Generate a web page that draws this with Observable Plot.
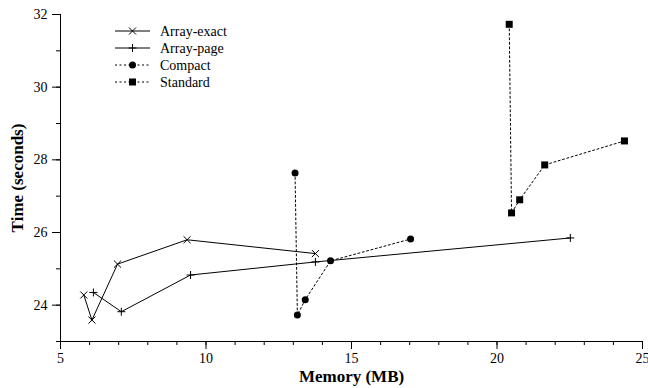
<!DOCTYPE html>
<html><head><meta charset="utf-8">
<script src="https://cdn.jsdelivr.net/npm/d3@7"></script>
<script src="https://cdn.jsdelivr.net/npm/@observablehq/plot@0.6"></script>
<style>body{margin:0;background:#fff;} svg{display:block;}</style>
</head><body><div id="chart"></div>
<script>
const seriesNames = ["Array-exact", "Array-page", "Compact", "Standard"];
const exactX = [5.80, 6.08, 6.96, 9.35, 13.76];
const exactY = [24.28, 23.59, 25.13, 25.80, 25.42];
const pageX = [6.13, 7.09, 9.47, 13.76, 22.52];
const pageY = [24.35, 23.82, 24.83, 25.19, 25.85];
const compactX = [13.06, 13.14, 13.41, 14.28, 17.03];
const compactY = [27.64, 23.73, 24.15, 25.22, 25.82];
const standardX = [20.42, 20.50, 20.78, 21.64, 24.38];
const standardY = [31.73, 26.54, 26.90, 27.86, 28.52];
const xTicks = [5, 10, 15, 20, 25];
const yTicks = [24, 26, 28, 30, 32];

const toRows = (xs, ys) => xs.map((x, i) => ({x, y: ys[i]}));
const exact = toRows(exactX, exactY);
const page = toRows(pageX, pageY);
const compact = toRows(compactX, compactY);
const standard = toRows(standardX, standardY);
const dash = "2,2.5";

const plot = Plot.plot({
  width: 648, height: 388,
  marginLeft: 60, marginRight: 6, marginTop: 14, marginBottom: 47,
  style: {fontFamily: "'Liberation Serif', serif", fontSize: "14px", color: "#000", background: "#fff"},
  x: {domain: [5, 25]},
  y: {domain: [23, 32]},
  marks: [
    Plot.ruleX([5], {stroke: "#000", strokeWidth: 1}),
    Plot.ruleY([23], {stroke: "#000", strokeWidth: 1}),
    Plot.axisX({ticks: d3.range(5, 26, 1), tickSize: 4, text: null, label: null}),
    Plot.axisX({ticks: xTicks, tickSize: 8, tickPadding: 4, fontSize: 14,
      label: "Memory (MB)", labelAnchor: "center", labelArrow: "none", labelOffset: 40}),
    Plot.axisY({ticks: d3.range(23, 33, 1), tickSize: 4, text: null, label: null}),
    Plot.axisY({ticks: yTicks, tickSize: 8, tickPadding: 5, fontSize: 14,
      label: "Time (seconds)", labelAnchor: "center", labelArrow: "none", labelOffset: 50}),
    Plot.line(exact, {x: "x", y: "y", stroke: "#000", strokeWidth: 1}),
    Plot.dot(exact, {x: "x", y: "y", symbol: "times", r: 3.3, stroke: "#000", strokeWidth: 1}),
    Plot.line(page, {x: "x", y: "y", stroke: "#000", strokeWidth: 1}),
    Plot.dot(page, {x: "x", y: "y", symbol: "plus", r: 2.7, stroke: "#000", strokeWidth: 1}),
    Plot.line(compact, {x: "x", y: "y", stroke: "#000", strokeWidth: 1, strokeDasharray: dash}),
    Plot.dot(compact, {x: "x", y: "y", symbol: "circle", r: 3.5, fill: "#000"}),
    Plot.line(standard, {x: "x", y: "y", stroke: "#000", strokeWidth: 1, strokeDasharray: dash}),
    Plot.dot(standard, {x: "x", y: "y", symbol: "square", r: 3.95, fill: "#000"})
  ]
});
d3.select(plot).selectAll("g[aria-label='x-axis label'] text, g[aria-label='y-axis label'] text")
  .attr("font-weight", "bold").attr("font-size", "17px");
document.getElementById("chart").appendChild(plot);

// legend
const svg = d3.select(plot);
const symbols = [d3.symbolTimes, d3.symbolPlus, d3.symbolCircle, d3.symbolSquare];
const sizes = [34, 23, 38.5, 49];
const rowY = [31, 48, 65, 82];
const lg = svg.append("g").attr("aria-label", "legend");
seriesNames.forEach((name, i) => {
  const g = lg.append("g").attr("transform", `translate(0,${rowY[i]})`);
  g.append("line").attr("x1", 115).attr("x2", 150).attr("y1", 0).attr("y2", 0)
    .attr("stroke", "#000").attr("stroke-width", 1)
    .attr("stroke-dasharray", i >= 2 ? dash : null);
  const filled = i >= 2;
  g.append("path").attr("transform", "translate(132.5,0)")
    .attr("d", d3.symbol(symbols[i], sizes[i])())
    .attr("fill", filled ? "#000" : "none").attr("stroke", filled ? "none" : "#000");
  g.append("text").attr("x", 160).attr("y", 0).attr("dy", "0.35em")
    .attr("text-anchor", "start")
    .attr("font-size", "14px").attr("font-family", "'Liberation Serif', serif").text(name);
});
</script></body></html>
